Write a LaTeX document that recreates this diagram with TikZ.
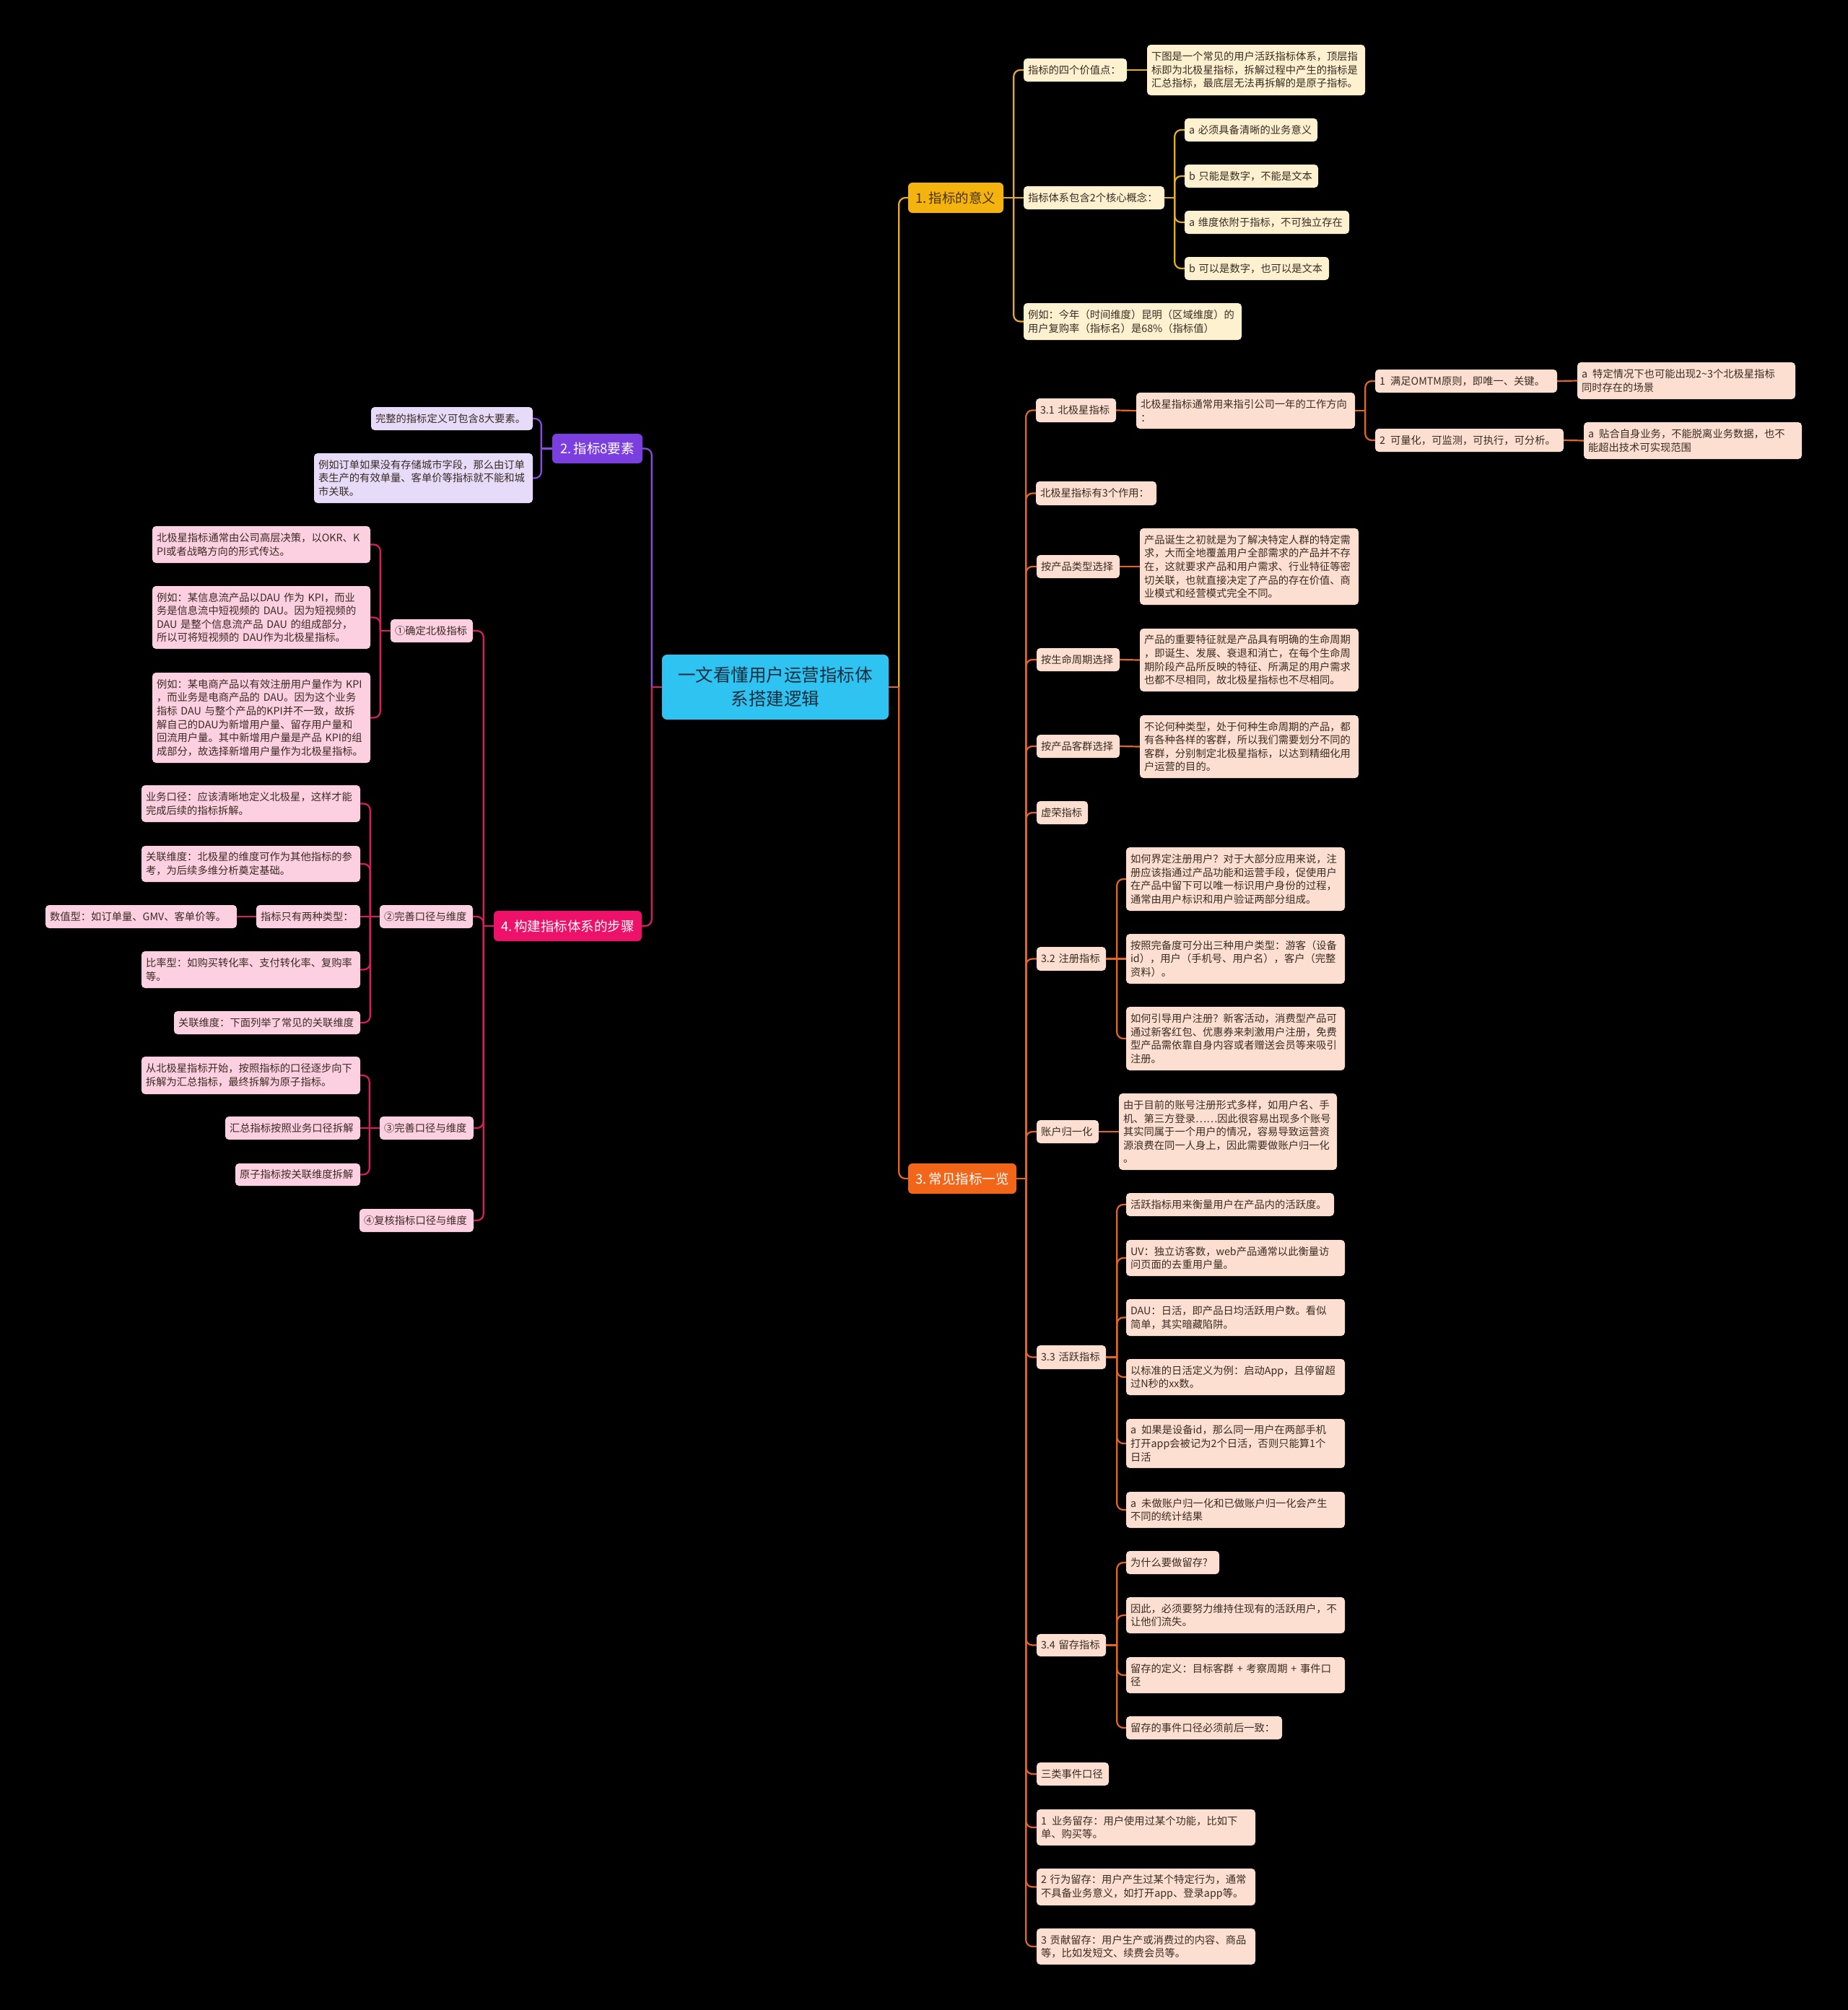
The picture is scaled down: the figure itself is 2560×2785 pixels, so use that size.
\documentclass[tikz,border=0pt]{standalone}
\usepackage{fontspec}
\setmainfont{Noto Sans CJK SC}
\definecolor{yline}{HTML}{E3AE2A}
\definecolor{yfill}{HTML}{FDF1D0}
\definecolor{ymain}{HTML}{F5B30F}
\definecolor{ytext}{HTML}{4A3300}
\definecolor{oline}{HTML}{E0662A}
\definecolor{ofill}{HTML}{FCDFD0}
\definecolor{omain}{HTML}{F2661A}
\definecolor{pline}{HTML}{8A4BE0}
\definecolor{pfill}{HTML}{E6DBF9}
\definecolor{pmain}{HTML}{7B3FE0}
\definecolor{kline}{HTML}{D81D62}
\definecolor{kfill}{HTML}{FCCFE1}
\definecolor{kmain}{HTML}{EE1169}
\definecolor{cfill}{HTML}{2EC3F1}
\definecolor{ctext}{HTML}{1B2E40}
\definecolor{ltext}{HTML}{3A2C24}
\newcommand\mmbox[7]{%
  \pgfmathsetmacro\mmw{#5-#3}%
  \pgfmathsetmacro\mmh{#6-#4}%
  \pgfmathsetmacro\mmtw{#5-#3-12}%
  \pgfmathsetmacro\mmx{(#3+#5)/2}%
  \pgfmathsetmacro\mmy{(#4+#6)/2}%
  \node[#2, minimum width=\mmw pt, minimum height=\mmh pt, text width=\mmtw pt] (#1) at (\mmx,\mmy) {#7};}
\tikzset{
  leaf/.style={rounded corners=5pt, inner xsep=6pt, inner ysep=1pt, align=left,
    font=\fontsize{14.3}{18.6}\selectfont, text=ltext},
  ly/.style={leaf, fill=yfill}, lo/.style={leaf, fill=ofill},
  lp/.style={leaf, fill=pfill}, lk/.style={leaf, fill=kfill},
  mainbox/.style={rounded corners=6pt, inner xsep=6pt, inner ysep=1pt, align=center,
    font=\fontsize{18.5}{22}\selectfont},
  cy/.style={draw=yline, line width=2.2pt, rounded corners=9pt},
  co/.style={draw=oline, line width=2.2pt, rounded corners=9pt},
  cp/.style={draw=pline, line width=2.2pt, rounded corners=9pt},
  ck/.style={draw=kline, line width=2.2pt, rounded corners=9pt},
}
\begin{document}
\begin{tikzpicture}[x=1pt,y=-1pt]
\fill[black] (0,0) rectangle (2560,2785);
\useasboundingbox (0,0) rectangle (2560,2785);

% centre
\mmbox{c}{mainbox, fill=cfill, text=ctext, font=\fontsize{24.5}{33}\selectfont, rounded corners=7pt}{917}{907}{1231}{997}{一文看懂用户运营指标体\\系搭建逻辑}

% ---------- branch 1
\mmbox{b1}{mainbox, fill=ymain, text=ytext}{1258}{253}{1390}{295}{1.\hspace{3pt}指标的意义}
\mmbox{b1a}{ly}{1418}{81}{1561}{113}{指标的四个价值点：}
\mmbox{b1a1}{ly}{1589}{62}{1891}{132}{下图是一个常见的用户活跃指标体系，顶层指\\标即为北极星指标，拆解过程中产生的指标是\\汇总指标，最底层无法再拆解的是原子指标。}
\mmbox{b1b}{ly}{1418}{258}{1613}{290}{指标体系包含2个核心概念：}
\mmbox{b1b1}{ly}{1641}{164}{1825}{196}{a 必须具备清晰的业务意义}
\mmbox{b1b2}{ly}{1641}{228}{1826}{260}{b 只能是数字，不能是文本}
\mmbox{b1b3}{ly}{1641}{292}{1869}{324}{a 维度依附于指标，不可独立存在}
\mmbox{b1b4}{ly}{1641}{356}{1841}{388}{b 可以是数字，也可以是文本}
\mmbox{b1c}{ly}{1418}{420}{1720}{471}{例如：今年（时间维度）昆明（区域维度）的\\用户复购率（指标名）是68\%（指标值）}

% ---------- branch 3
\mmbox{b3}{mainbox, fill=omain, text=white}{1258}{1612}{1408}{1654}{3.\hspace{3pt}常见指标一览}
\mmbox{n31}{lo}{1435}{552}{1546}{585}{3.1 北极星指标}
\mmbox{n31a}{lo}{1574}{544}{1877}{594}{北极星指标通常用来指引公司一年的工作方向\\：}
\mmbox{n31a1}{lo}{1905}{512}{2157}{544}{1\, 满足OMTM原则，即唯一、关键。}
\mmbox{n31a1a}{lo}{2185}{502}{2487}{553}{a\, 特定情况下也可能出现2\textasciitilde 3个北极星指标\\同时存在的场景}
\mmbox{n31a2}{lo}{1905}{594}{2166}{626}{2\, 可量化，可监测，可执行，可分析。}
\mmbox{n31a2a}{lo}{2194}{585}{2496}{636}{a\, 贴合自身业务，不能脱离业务数据，也不\\能超出技术可实现范围}
\mmbox{n3x}{lo}{1435}{667}{1602}{700}{北极星指标有3个作用：}
\mmbox{np1}{lo}{1436}{769}{1551}{801}{按产品类型选择}
\mmbox{np1a}{lo}{1579}{732}{1882}{838}{产品诞生之初就是为了解决特定人群的特定需\\求，大而全地覆盖用户全部需求的产品并不存\\在，这就要求产品和用户需求、行业特征等密\\切关联，也就直接决定了产品的存在价值、商\\业模式和经营模式完全不同。}
\mmbox{np2}{lo}{1436}{898}{1551}{930}{按生命周期选择}
\mmbox{np2a}{lo}{1579}{871}{1882}{958}{产品的重要特征就是产品具有明确的生命周期\\，即诞生、发展、衰退和消亡，在每个生命周\\期阶段产品所反映的特征、所满足的用户需求\\也都不尽相同，故北极星指标也不尽相同。}
\mmbox{np3}{lo}{1436}{1018}{1551}{1050}{按产品客群选择}
\mmbox{np3a}{lo}{1579}{991}{1882}{1078}{不论何种类型，处于何种生命周期的产品，都\\有各种各样的客群，所以我们需要划分不同的\\客群，分别制定北极星指标，以达到精细化用\\户运营的目的。}
\mmbox{nvan}{lo}{1436}{1110}{1507}{1142}{虚荣指标}
\mmbox{n32}{lo}{1436}{1312}{1532}{1345}{3.2 注册指标}
\mmbox{n32a}{lo}{1560}{1174}{1863}{1262}{如何界定注册用户？对于大部分应用来说，注\\册应该指通过产品功能和运营手段，促使用户\\在产品中留下可以唯一标识用户身份的过程，\\通常由用户标识和用户验证两部分组成。}
\mmbox{n32b}{lo}{1560}{1294}{1863}{1363}{按照完备度可分出三种用户类型：游客（设备\\id），用户（手机号、用户名），客户（完整\\资料）。}
\mmbox{n32c}{lo}{1560}{1395}{1863}{1483}{如何引导用户注册？新客活动，消费型产品可\\通过新客红包、优惠券来刺激用户注册，免费\\型产品需依靠自身内容或者赠送会员等来吸引\\注册。}
\mmbox{nacc}{lo}{1436}{1552}{1522}{1584}{账户归一化}
\mmbox{nacca}{lo}{1550}{1515}{1852}{1621}{由于目前的账号注册形式多样，如用户名、手\\机、第三方登录……因此很容易出现多个账号\\其实同属于一个用户的情况，容易导致运营资\\源浪费在同一人身上，因此需要做账户归一化\\。}
\mmbox{n33}{lo}{1436}{1864}{1532}{1897}{3.3 活跃指标}
\mmbox{n33a}{lo}{1560}{1653}{1848}{1685}{活跃指标用来衡量用户在产品内的活跃度。}
\mmbox{n33b}{lo}{1560}{1718}{1863}{1768}{UV：独立访客数，web产品通常以此衡量访\\问页面的去重用户量。}
\mmbox{n33c}{lo}{1560}{1800}{1863}{1851}{DAU：日活，即产品日均活跃用户数。看似\\简单，其实暗藏陷阱。}
\mmbox{n33d}{lo}{1560}{1883}{1863}{1933}{以标准的日活定义为例：启动App，且停留超\\过N秒的xx数。}
\mmbox{n33e}{lo}{1560}{1966}{1863}{2034}{a\, 如果是设备id，那么同一用户在两部手机\\打开app会被记为2个日活，否则只能算1个\\日活}
\mmbox{n33f}{lo}{1560}{2067}{1863}{2117}{a\, 未做账户归一化和已做账户归一化会产生\\不同的统计结果}
\mmbox{n34}{lo}{1436}{2264}{1532}{2295}{3.4 留存指标}
\mmbox{n34a}{lo}{1560}{2149}{1689}{2181}{为什么要做留存?}
\mmbox{n34b}{lo}{1560}{2213}{1863}{2263}{因此，必须要努力维持住现有的活跃用户，不\\让他们流失。}
\mmbox{n34c}{lo}{1560}{2296}{1863}{2346}{留存的定义：目标客群 + 考察周期 + 事件口\\径}
\mmbox{n34d}{lo}{1560}{2378}{1776}{2410}{留存的事件口径必须前后一致：}
\mmbox{n3e}{lo}{1436}{2442}{1536}{2474}{三类事件口径}
\mmbox{n3r1}{lo}{1436}{2507}{1739}{2557}{1\, 业务留存：用户使用过某个功能，比如下\\单、购买等。}
\mmbox{n3r2}{lo}{1436}{2589}{1739}{2640}{2 行为留存：用户产生过某个特定行为，通常\\不具备业务意义，如打开app、登录app等。}
\mmbox{n3r3}{lo}{1436}{2672}{1739}{2722}{3 贡献留存：用户生产或消费过的内容、商品\\等，比如发短文、续费会员等。}

% ---------- branch 2
\mmbox{b2}{mainbox, fill=pmain, text=white}{765}{601}{890}{642}{2.\hspace{3pt}指标8要素}
\mmbox{b2a}{lp}{514}{564}{738}{596}{完整的指标定义可包含8大要素。}
\mmbox{b2b}{lp}{435}{628}{738}{697}{例如订单如果没有存储城市字段，那么由订单\\表生产的有效单量、客单价等指标就不能和城\\市关联。}

% ---------- branch 4
\mmbox{b4}{mainbox, fill=kmain, text=white}{684}{1262}{889}{1304}{4.\hspace{3pt}构建指标体系的步骤}
\mmbox{s1}{lk}{541}{858}{655}{890}{①确定北极指标}
\mmbox{s1a}{lk}{211}{729}{513}{780}{北极星指标通常由公司高层决策，以OKR、K\\PI或者战略方向的形式传达。}
\mmbox{s1b}{lk}{211}{812}{513}{899}{例如：某信息流产品以DAU 作为 KPI，而业\\务是信息流中短视频的 DAU。因为短视频的\\DAU 是整个信息流产品 DAU 的组成部分，\\所以可将短视频的 DAU作为北极星指标。}
\mmbox{s1c}{lk}{211}{932}{513}{1057}{例如：某电商产品以有效注册用户量作为 KPI\\，而业务是电商产品的 DAU。因为这个业务\\指标 DAU 与整个产品的KPI并不一致，故拆\\解自己的DAU为新增用户量、留存用户量和\\回流用户量。其中新增用户量是产品 KPI的组\\成部分，故选择新增用户量作为北极星指标。}
\mmbox{s2}{lk}{526}{1254}{655}{1286}{②完善口径与维度}
\mmbox{s2a}{lk}{196}{1088}{499}{1139}{业务口径：应该清晰地定义北极星，这样才能\\完成后续的指标拆解。}
\mmbox{s2b}{lk}{196}{1172}{499}{1222}{关联维度：北极星的维度可作为其他指标的参\\考，为后续多维分析奠定基础。}
\mmbox{s2c}{lk}{355}{1254}{499}{1286}{指标只有两种类型：}
\mmbox{s2c1}{lk}{63}{1254}{328}{1286}{数值型：如订单量、GMV、客单价等。}
\mmbox{s2d}{lk}{196}{1318}{499}{1369}{比率型：如购买转化率、支付转化率、复购率\\等。}
\mmbox{s2e}{lk}{241}{1401}{499}{1433}{关联维度：下面列举了常见的关联维度}
\mmbox{s3}{lk}{526}{1547}{656}{1579}{③完善口径与维度}
\mmbox{s3a}{lk}{196}{1464}{499}{1516}{从北极星指标开始，按照指标的口径逐步向下\\拆解为汇总指标，最终拆解为原子指标。}
\mmbox{s3b}{lk}{312}{1547}{499}{1579}{汇总指标按照业务口径拆解}
\mmbox{s3c}{lk}{326}{1612}{499}{1643}{原子指标按关联维度拆解}
\mmbox{s4}{lk}{498}{1675}{656}{1707}{④复核指标口径与维度}

% ---------- connectors: centre
\coordinate (jc) at ([xshift=14pt]c.east);
\coordinate (jl) at ([xshift=-14pt]c.west);
\draw[cy] (jc) |- (b1.west);
\draw[co] (c.east) -- (jc);
\draw[co] (jc) |- (b3.west);
\draw[cp] (jl) |- (b2.east);
\draw[ck] (c.west) -- (jl);
\draw[ck] (jl) |- (b4.east);

% branch 1
\coordinate (j1) at ([xshift=14pt]b1.east);
\draw[cy] (b1.east) -- (j1);
\draw[cy] (j1) |- (b1a.west);
\draw[cy] (j1) -- (b1b.west);
\draw[cy] (j1) |- (b1c.west);
\draw[cy] (b1a.east) -- (b1a1.west);
\coordinate (j1b) at ([xshift=14pt]b1b.east);
\draw[cy] (b1b.east) -- (j1b);
\foreach \k in {b1b1,b1b2,b1b3,b1b4} \draw[cy] (j1b) |- (\k.west);

% branch 3
\coordinate (j3) at ([xshift=13pt]b3.east);
\draw[co] (b3.east) -- (j3);
\foreach \k in {n31,n3x,np1,np2,np3,nvan,n32,nacc,n33,n34,n3e,n3r1,n3r2,n3r3} \draw[co] (j3) |- (\k.west);
\draw[co] (n31.east) -- (n31a.west);
\coordinate (j31) at ([xshift=14pt]n31a.east);
\draw[co] (n31a.east) -- (j31);
\draw[co] (j31) |- (n31a1.west);
\draw[co] (j31) |- (n31a2.west);
\draw[co] (n31a1.east) -- (n31a1a.west);
\draw[co] (n31a2.east) -- (n31a2a.west);
\draw[co] (np1.east) -- (np1a.west);
\draw[co] (np2.east) -- (np2a.west);
\draw[co] (np3.east) -- (np3a.west);
\draw[co] (nacc.east) -- (nacca.west);
\coordinate (j32) at ([xshift=15pt]n32.east);
\draw[co] (n32.east) -- (j32);
\draw[co] (j32) |- (n32a.west);
\draw[co] (j32) -- (n32b.west);
\draw[co] (j32) |- (n32c.west);
\coordinate (j33) at ([xshift=15pt]n33.east);
\draw[co] (n33.east) -- (j33);
\foreach \k in {n33a,n33b,n33c,n33d,n33e,n33f} \draw[co] (j33) |- (\k.west);
\coordinate (j34) at ([xshift=15pt]n34.east);
\draw[co] (n34.east) -- (j34);
\foreach \k in {n34a,n34b,n34c,n34d} \draw[co] (j34) |- (\k.west);

% branch 2
\coordinate (j2) at ([xshift=-15pt]b2.west);
\draw[cp] (b2.west) -- (j2);
\draw[cp] (j2) |- (b2a.east);
\draw[cp] (j2) |- (b2b.east);

% branch 4
\coordinate (j4) at ([xshift=-14pt]b4.west);
\draw[ck] (b4.west) -- (j4);
\foreach \k in {s1,s2,s3,s4} \draw[ck] (j4) |- (\k.east);
\coordinate (js1) at ([xshift=-14pt]s1.west);
\draw[ck] (s1.west) -- (js1);
\foreach \k in {s1a,s1b,s1c} \draw[ck] (js1) |- (\k.east);
\coordinate (js2) at ([xshift=-13pt]s2.west);
\draw[ck] (s2.west) -- (js2);
\foreach \k in {s2a,s2b,s2d,s2e} \draw[ck] (js2) |- (\k.east);
\draw[ck] (js2) -- (s2c.east);
\draw[ck] (s2c.west) -- (s2c1.east);
\coordinate (js3) at ([xshift=-14pt]s3.west);
\draw[ck] (s3.west) -- (js3);
\draw[ck] (js3) |- (s3a.east);
\draw[ck] (js3) -- (s3b.east);
\draw[ck] (js3) |- (s3c.east);
\end{tikzpicture}
\end{document}
